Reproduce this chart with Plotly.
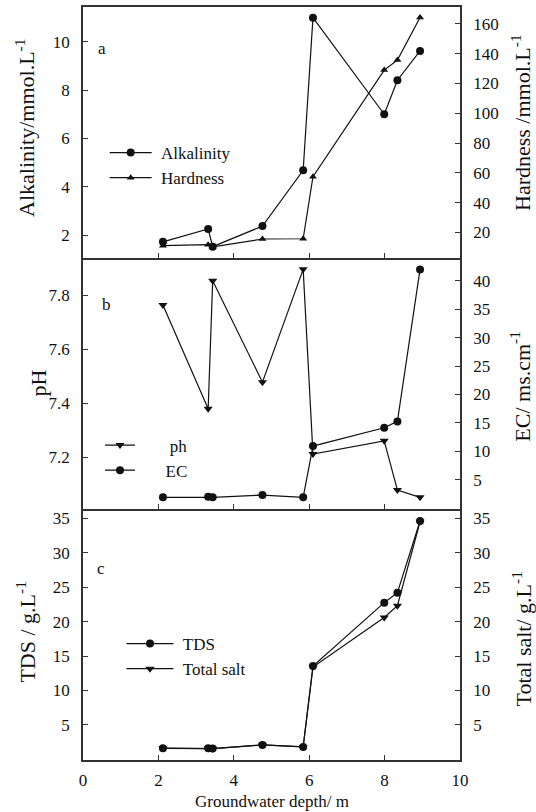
import plotly.graph_objects as go
from plotly.subplots import make_subplots

# ---- data ----
depth = [2.12, 3.32, 3.44, 4.76, 5.84, 6.10, 7.99, 8.34, 8.94]
alkalinity = [1.72, 2.25, 1.52, 2.37, 4.68, 11.0, 7.0, 8.41, 9.62]
hardness = [11.0, 11.7, 10.3, 15.5, 15.7, 57.4, 129.0, 135.8, 164.4]
ph = [7.763, 7.38, 7.853, 7.478, 7.895, 7.212, 7.261, 7.079, 7.052]
ec = [1.9, 2.0, 1.9, 2.3, 1.9, 10.92, 14.14, 15.26, 41.99]
tds = [1.61, 1.61, 1.56, 2.09, 1.80, 13.56, 22.75, 24.2, 34.6]
total_salt = [1.6, 1.6, 1.55, 2.1, 1.8, 13.4, 20.6, 22.3, 34.5]

x_ticks = [0, 2, 4, 6, 8, 10]
alk_ticks = [2, 4, 6, 8, 10]
hard_ticks = [20, 40, 60, 80, 100, 120, 140, 160]
ph_ticks = [7.2, 7.4, 7.6, 7.8]
ec_ticks = [5, 10, 15, 20, 25, 30, 35, 40]
tds_ticks = [5, 10, 15, 20, 25, 30, 35]

FONT = "'Liberation Serif', 'Times New Roman', 'DejaVu Serif', serif"
INK = "#111111"
AX = "#333333"

fig = make_subplots(rows=3, cols=1, shared_xaxes=True, vertical_spacing=0,
                    specs=[[{"secondary_y": True}]] * 3)

line = dict(color=INK, width=1.2)


def tr(y, name, symbol, size, legend):
    return go.Scatter(x=depth, y=y, name=name, mode="lines+markers", line=line,
                      marker=dict(symbol=symbol, size=size, color=INK),
                      legend=legend)


NB = "\u00a0"
fig.add_trace(tr(alkalinity, NB + "Alkalinity", "circle", 8, "legend"), row=1, col=1, secondary_y=False)
fig.add_trace(tr(hardness, NB + "Hardness", "triangle-up", 7, "legend"), row=1, col=1, secondary_y=True)
fig.add_trace(tr(ph, NB * 7 + "ph", "triangle-down", 8, "legend2"), row=2, col=1, secondary_y=False)
fig.add_trace(tr(ec, NB * 6 + "EC", "circle", 8, "legend2"), row=2, col=1, secondary_y=True)
fig.add_trace(tr(tds, NB + "TDS", "circle", 8, "legend3"), row=3, col=1, secondary_y=False)
fig.add_trace(tr(total_salt, NB + "Total salt", "triangle-down", 8, "legend3"), row=3, col=1, secondary_y=True)

tickfont = dict(family=FONT, size=17, color=INK)
common_axis = dict(showline=True, linecolor=AX, linewidth=1.5, showgrid=False,
                   zeroline=False, ticks="inside", ticklen=5, tickcolor=AX,
                   tickfont=tickfont)

for i, name in enumerate(["xaxis", "xaxis2", "xaxis3"]):
    fig.layout[name].update(range=[0, 10], tickvals=x_ticks, mirror=(i == 0),
                            domain=[0, 1],
                            showticklabels=(i == 2), ticklabelstandoff=4,
                            **common_axis)

ax_specs = [
    ("yaxis", [1.05, 11.44], alk_ticks, "left"),
    ("yaxis2", [2.75, 171.4], hard_ticks, "right"),
    ("yaxis3", [7.009, 7.937], ph_ticks, "left"),
    ("yaxis4", [-0.15, 44.0], ec_ticks, "right"),
    ("yaxis5", [-0.1, 36.35], tds_ticks, "left"),
    ("yaxis6", [-0.1, 36.35], tds_ticks, "right"),
]
for name, rng, tv, side in ax_specs:
    fig.layout[name].update(range=rng, tickvals=tv, side=side, ticklabelstandoff=8,
                            **common_axis)

# plot area in px: x 83..460, y 7..760
L, R, T, B = 83, 460, 7, 760
W, H = R - L, B - T


def px(x):
    return (x - L) / W


def py(y):
    return (B - y) / H


legfont = dict(family=FONT, size=17, color=INK)
leg = dict(bgcolor="rgba(0,0,0,0)", font=legfont, xanchor="left", yanchor="top",
           tracegroupgap=0)
fig.update_layout(
    legend=dict(x=px(104.7), y=py(135), itemwidth=42, **leg),
    legend2=dict(x=px(100), y=py(427.5), itemwidth=30, **leg),
    legend3=dict(x=px(121.5), y=py(626), itemwidth=47, **leg),
)

annots = []
for t, x, y in [("a", 101.7, 48.3), ("b", 106.7, 304), ("c", 100.9, 568.3)]:
    annots.append(dict(text=t, x=px(x), y=py(y), xref="paper", yref="paper",
                       showarrow=False, xanchor="center", yanchor="middle",
                       font=dict(family=FONT, size=17, color=INK)))

titles = [
    ("Alkalinity/mmol.L<sup>-1</sup>", 25, 128),
    ("Hardness /mmol.L<sup>-1</sup>", 521, 123),
    ("pH", 37.6, 383),
    ("EC/ ms.cm<sup>-1</sup>", 520, 386.7),
    ("TDS / g.L<sup>-1</sup>", 25.6, 632),
    ("Total salt/ g.L<sup>-1</sup>", 521.5, 639),
]
for t, x, y in titles:
    annots.append(dict(text=t, x=px(x), y=py(y), xref="paper", yref="paper",
                       showarrow=False, xanchor="center", yanchor="middle",
                       textangle=-90, font=dict(family=FONT, size=22, color=INK)))

annots.append(dict(text="Groundwater depth/ m", x=0.5, y=py(801.7), xref="paper",
                   yref="paper", showarrow=False, xanchor="center", yanchor="middle",
                   font=dict(family=FONT, size=17, color=INK)))

fig.update_layout(
    width=536, height=812,
    margin=dict(l=L, r=536 - R, t=T, b=812 - B, autoexpand=False),
    paper_bgcolor="white", plot_bgcolor="white",
    font=dict(family=FONT, color=INK),
    annotations=annots,
    showlegend=True,
)

fig.write_html("out.html")
